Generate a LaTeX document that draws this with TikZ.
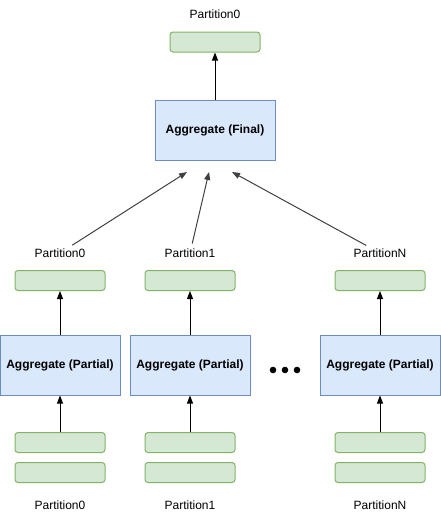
\documentclass[tikz,border=0pt]{standalone}
\usepackage{fontspec}
\setmainfont{Liberation Sans}
\usepackage{tikz}
\usetikzlibrary{arrows.meta}

\definecolor{aggfill}{HTML}{DAE8FC}
\definecolor{aggline}{HTML}{6C8EBF}
\definecolor{partfill}{HTML}{D5E8D4}
\definecolor{partline}{HTML}{82B366}

\begin{document}
\begin{tikzpicture}[x=1pt, y=-1pt,
    agg/.style={rectangle, draw=aggline, fill=aggfill, line width=1pt, minimum width=120pt, minimum height=60pt, font=\bfseries\fontsize{12}{14}\selectfont},
    part/.style={rectangle, rounded corners=3pt, draw=partline, fill=partfill, line width=1pt, minimum width=90pt, minimum height=20pt},
    lbl/.style={font=\fontsize{12}{14}\selectfont, inner sep=1pt},
    up/.style={-{Triangle[length=8pt, width=6pt]}, line width=1pt},
    merge/.style={-{Triangle[length=8pt, width=6pt]}, line width=1pt, black!75, shorten <=4pt}]
        \useasboundingbox (0,0) rectangle (441,520);

        % Nodes
        \node[lbl] (t0) at (215,14) {Partition0};
        \node[part] (out) at (215,42) {};
        \node[agg] (final) at (215,130) {Aggregate (Final)};

        \node[lbl] (m0) at (60,253) {Partition0};
        \node[lbl] (m1) at (190,253) {Partition1};
        \node[lbl] (mN) at (380,253) {PartitionN};
        \node[part] (r0) at (60,280.5) {};
        \node[part] (r1) at (190,280.5) {};
        \node[part] (rN) at (380,280.5) {};

        \node[agg] (p0) at (60,365) {Aggregate (Partial)};
        \node[agg] (p1) at (190,365) {Aggregate (Partial)};
        \node[agg] (pN) at (380,365) {Aggregate (Partial)};

        \node[part] (a0) at (60,442.5) {};
        \node[part] (a1) at (190,442.5) {};
        \node[part] (aN) at (380,442.5) {};
        \node[part] (b0) at (60,472.5) {};
        \node[part] (b1) at (190,472.5) {};
        \node[part] (bN) at (380,472.5) {};
        \node[lbl] (s0) at (60,505) {Partition0};
        \node[lbl] (s1) at (190,505) {Partition1};
        \node[lbl] (sN) at (380,505) {PartitionN};

        % Dots
        \fill (273,370) circle (3.3pt);
        \fill (285,370) circle (3.3pt);
        \fill (297,370) circle (3.3pt);

        % Edges
        \draw[up] (final) -- (out);
        \draw[up] (p0) -- (r0);
        \draw[up] (p1) -- (r1);
        \draw[up] (pN) -- (rN);
        \draw[up] (a0) -- (p0);
        \draw[up] (a1) -- (p1);
        \draw[up] (aN) -- (pN);

        \coordinate (f0) at (187,172);
        \coordinate (f1) at (209,172);
        \coordinate (fN) at (232,172);
        \draw[merge] (m0) -- (f0);
        \draw[merge] (m1) -- (f1);
        \draw[merge] (mN) -- (fN);
    \end{tikzpicture}
\end{document}
